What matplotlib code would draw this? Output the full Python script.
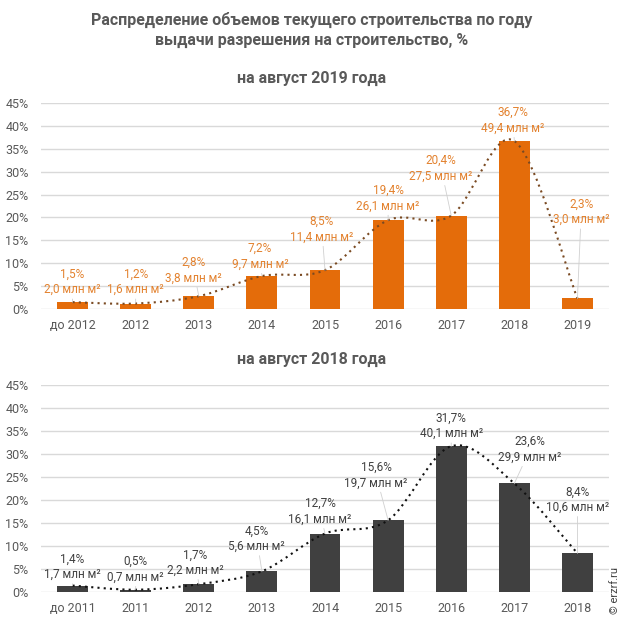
import matplotlib
matplotlib.use("Agg")
import matplotlib.pyplot as plt
from matplotlib.path import Path
from matplotlib.patches import PathPatch
import numpy as np

plt.rcParams['font.family'] = ['Roboto', 'DejaVu Sans']

# ---- data ----
cats_2019 = ["до 2012", "2012", "2013", "2014", "2015", "2016", "2017", "2018", "2019"]
pct_2019 = [1.5, 1.2, 2.8, 7.2, 8.5, 19.4, 20.4, 36.7, 2.3]
vol_2019 = [2.0, 1.6, 3.8, 9.7, 11.4, 26.1, 27.5, 49.4, 3.0]

cats_2018 = ["до 2011", "2011", "2012", "2013", "2014", "2015", "2016", "2017", "2018"]
pct_2018 = [1.4, 0.5, 1.7, 4.5, 12.7, 15.6, 31.7, 23.6, 8.4]
vol_2018 = [1.7, 0.7, 2.2, 5.6, 16.1, 19.7, 40.1, 29.9, 10.6]

y_ticks = [0, 5, 10, 15, 20, 25, 30, 35, 40, 45]

# ---- layout of labels (positions in axis units) ----
lab_y_2019 = [5.9, 5.9, 8.5, 11.5, 17.4, 24.2, 30.7, 41.2, 21.2]
lab_dx_2019 = [0, 0, -0.08, -0.03, -0.05, 0, -0.16, -0.02, 0.06]
lab_y_2018 = [5.5, 4.9, 6.4, 11.6, 17.5, 25.4, 36.1, 31.0, 20.1]
lab_dx_2018 = [0, 0, -0.05, -0.08, -0.08, -0.19, 0, 0.25, 0]

GRAY = "#595959"
fig = plt.figure(figsize=(6.24, 6.24), dpi=100)
fig.patch.set_facecolor("white")


def smooth_path(x, y):
    pts = np.column_stack([x, y]).astype(float)
    n = len(pts)
    verts = [pts[0]]
    codes = [Path.MOVETO]
    for i in range(n - 1):
        p0 = pts[i - 1] if i > 0 else pts[i]
        p1 = pts[i]
        p2 = pts[i + 1]
        p3 = pts[i + 2] if i + 2 < n else pts[i + 1]
        c1 = p1 + (p2 - p0) / 6.0
        c2 = p2 - (p3 - p1) / 6.0
        verts += [c1, c2, p2]
        codes += [Path.CURVE4] * 3
    return Path(verts, codes)


def draw(ax, cats, pct, vol, lab_y, lab_dx, bar_color, text_color, line_color):
    x = np.arange(len(cats))
    ax.bar(x, pct, width=0.49, color=bar_color, zorder=2)
    ax.set_xlim(-0.5, len(cats) - 0.5)
    ax.set_ylim(0, 45)
    ax.set_yticks(y_ticks)
    ax.set_yticklabels([f"{t}%" for t in y_ticks])
    ax.set_xticks(x)
    ax.set_xticklabels(cats)
    ax.tick_params(axis='both', length=0, labelsize=9, colors=GRAY)
    ax.tick_params(axis='y', pad=9)
    ax.tick_params(axis='x', pad=7)
    for s in ax.spines.values():
        s.set_visible(False)
    ax.grid(axis='y', color="#D9D9D9", linewidth=1.0, zorder=0)
    ax.set_axisbelow(True)
    patch = PathPatch(smooth_path(x, pct), facecolor='none', edgecolor=line_color,
                      linewidth=1.5, linestyle=(0, (1, 2)), zorder=3)
    ax.add_patch(patch)
    for i in range(len(cats)):
        txt = f"{pct[i]:.1f}%\n{vol[i]:.1f} млн м²".replace('.', ',')
        ax.annotate(txt, xy=(x[i], pct[i]), xytext=(x[i] + lab_dx[i], lab_y[i]),
                    textcoords='data', ha='center', va='center', fontsize=8.5,
                    color=text_color, linespacing=1.25, zorder=4,
                    arrowprops=dict(arrowstyle='-', color="#D0D0D0", lw=0.6,
                                    shrinkA=0, shrinkB=0))


ax1 = fig.add_axes([41 / 624, 1 - 309 / 624, 568 / 624, 206 / 624])
draw(ax1, cats_2019, pct_2019, vol_2019, lab_y_2019, lab_dx_2019,
     "#E46C0A", "#E3822F", "#7A4A22")

ax2 = fig.add_axes([41 / 624, 1 - 592 / 624, 568 / 624, 207 / 624])
draw(ax2, cats_2018, pct_2018, vol_2018, lab_y_2018, lab_dx_2018,
     "#404040", "#404040", "#111111")

fig.text(312 / 624, 1 - 20 / 624, "Распределение объемов текущего строительства по году",
         ha='center', va='center', fontsize=11.5, fontweight='bold', color=GRAY)
fig.text(312 / 624, 1 - 40 / 624, "выдачи разрешения на строительство, %",
         ha='center', va='center', fontsize=11.5, fontweight='bold', color=GRAY)
fig.text(312 / 624, 1 - 78 / 624, "на август 2019 года",
         ha='center', va='center', fontsize=11.5, fontweight='bold', color=GRAY)
fig.text(312 / 624, 1 - 359 / 624, "на август 2018 года",
         ha='center', va='center', fontsize=11.5, fontweight='bold', color=GRAY)
fig.text(615 / 624, 1 - 590 / 624, "© erzrf.ru", rotation=90,
         ha='center', va='center', fontsize=8, color="#404040")

fig.savefig("out.png", dpi=100)
